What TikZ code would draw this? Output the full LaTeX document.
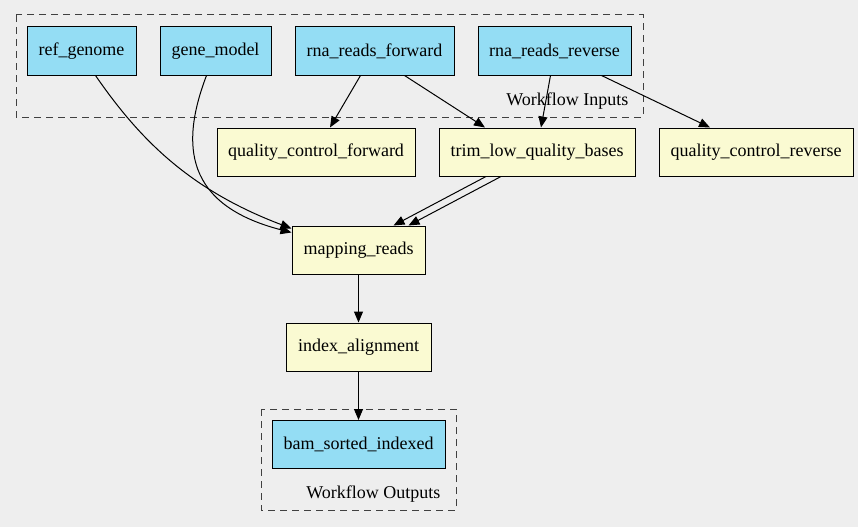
\documentclass[tikz,border=0pt]{standalone}
\usepackage{fontspec}
\setmainfont{Liberation Serif}
\usetikzlibrary{arrows.meta}
\definecolor{inputblue}{HTML}{94DDF4}
\definecolor{stepyellow}{HTML}{FAFAD2}
\definecolor{canvas}{HTML}{EEEEEE}
\tikzset{
  io/.style={draw, line width=1pt, fill=inputblue, minimum height=48pt, inner sep=0pt, font=\rmfamily\fontsize{18}{20}\selectfont},
  stepbox/.style={draw, line width=1pt, fill=stepyellow, minimum height=48pt, inner sep=0pt, font=\rmfamily\fontsize{18}{20}\selectfont},
  cluster/.style={draw=black!75, line width=1pt, dash pattern=on 7pt off 5pt},
  lbl/.style={anchor=east, font=\rmfamily\fontsize{18}{20}\selectfont},
  edge/.style={->, line width=1pt},
}
\begin{document}
\begin{tikzpicture}[x=1pt, y=-1pt, >={Triangle[length=11pt,width=9pt]}]
                \useasboundingbox[fill=canvas] (0,0) rectangle (858,527);
                % workflow inputs
                \draw [cluster] (16,15) rectangle (643,117);
                \node [lbl] (inlabel) at (632,101) {Workflow Inputs};
                \node [io, minimum width=109pt] (ref_genome) at (81.5,51) {ref\_genome};
                \node [io, minimum width=111pt] (gene_model) at (215.5,51) {gene\_model};
                \node [io, minimum width=159pt] (rna_fwd) at (374.5,51) {rna\_reads\_forward};
                \node [io, minimum width=153pt] (rna_rev) at (554.5,51) {rna\_reads\_reverse};
                % steps
                \node [stepbox, minimum width=198pt] (qc_fwd) at (316,152) {quality\_control\_forward};
                \node [stepbox, minimum width=196pt] (trim) at (537,152) {trim\_low\_quality\_bases};
                \node [stepbox, minimum width=194pt] (qc_rev) at (756,152) {quality\_control\_reverse};
                \node [stepbox, minimum width=133pt] (mapping) at (358.5,250) {mapping\_reads};
                \node [stepbox, minimum width=145pt] (index) at (358.5,347) {index\_alignment};
                % workflow outputs
                \draw [cluster] (261,409) rectangle (456,510);
                \node [lbl] (outlabel) at (444,494) {Workflow Outputs};
                \node [io, minimum width=173pt] (bam) at (358.5,444.5) {bam\_sorted\_indexed};
                % edges
                \draw [edge] ([xshift=14pt]ref_genome.south) .. controls (140,140) and (190,190) .. ([yshift=-3pt]mapping.north west);
                \draw [edge] ([xshift=-9pt]gene_model.south) .. controls (180,145) and (185,205) .. ([yshift=-7pt]mapping.north west);
                \draw [edge] ([xshift=-14pt]rna_fwd.south) -- ([xshift=14pt]qc_fwd.north);
                \draw [edge] ([xshift=30pt]rna_fwd.south) .. controls (440,98) .. ([xshift=-52pt]trim.north);
                \draw [edge] ([xshift=-4pt]rna_rev.south) -- ([xshift=4pt]trim.north);
                \draw [edge] ([xshift=47pt]rna_rev.south) -- ([xshift=-46pt]qc_rev.north);
                \draw [edge] ([xshift=-51pt]trim.south) -- ([xshift=35pt]mapping.north);
                \draw [edge] ([xshift=-36pt]trim.south) -- ([xshift=50pt]mapping.north);
                \draw [edge] (mapping) -- (index);
                \draw [edge] (index) -- (bam);
            \end{tikzpicture}
\end{document}
